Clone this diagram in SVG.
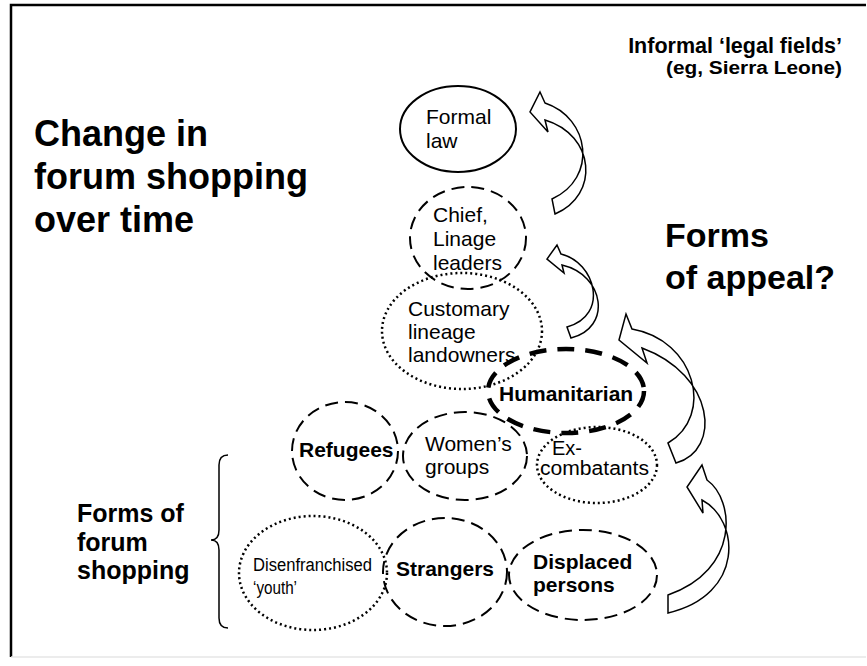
<svg xmlns="http://www.w3.org/2000/svg" width="867" height="666" viewBox="0 0 867 666">
<style>
text{font-family:"Liberation Sans",Arial,sans-serif;fill:#000}
.t{font-size:21px}
.b{font-weight:bold}
.solid{fill:none;stroke:#000;stroke-width:2}
.dash{fill:none;stroke:#000;stroke-width:2;stroke-dasharray:13 7}
.thick{fill:none;stroke:#000;stroke-width:4.5;stroke-dasharray:17 11}
.dot{fill:none;stroke:#000;stroke-width:2.5;stroke-dasharray:2 3}
.arrow{fill:#fff;stroke:#000;stroke-width:1.5;stroke-linejoin:miter}
</style>
<rect width="867" height="666" fill="#fff"/>
<path d="M11,657 V5 H866" fill="none" stroke="#000" stroke-width="2.5"/>
<path d="M11,657 H866" fill="none" stroke="#e6e6e6" stroke-width="1.5"/>

<g id="title">
<text class="b" font-size="36" x="34" y="146">Change in</text>
<text class="b" font-size="36" x="34" y="189">forum shopping</text>
<text class="b" font-size="36" x="34" y="232">over time</text>
</g>
<g id="subtitle">
<text class="b" font-size="21.5" x="842" y="53" text-anchor="end">Informal ‘legal fields’</text>
<text class="b" font-size="18" x="842" y="74" text-anchor="end" textLength="176" lengthAdjust="spacingAndGlyphs">(eg, Sierra Leone)</text>
</g>
<g id="appeal">
<text class="b" font-size="34" x="665" y="247">Forms</text>
<text class="b" font-size="34" x="665" y="289">of appeal?</text>
</g>
<g id="shopping">
<text class="b" font-size="25" x="77" y="522">Forms of</text>
<text class="b" font-size="25" x="77" y="551">forum</text>
<text class="b" font-size="25" x="77" y="579">shopping</text>
<path d="M228,455 Q219,455 219,465 L219,530 Q219,540 211,540 Q219,540 219,550 L219,618 Q219,628 228,628" fill="none" stroke="#000" stroke-width="1.5"/>
</g>

<g id="connectors">
<path class="arrow" d="M540,92 L545,103 C590,118 598,178 552,199 L555,214 C600,195 595,135 545,120 L548,132 L530,112 Z"/>
<path class="arrow" d="M557,245 L561,254 C595,262 610,315 567,327 L571,338 C612,328 605,275 562,265 L564,273 L547,259 Z"/>
<path class="arrow" d="M626,314 L632,329 C695,340 715,415 668,443 L676,463 C722,450 715,375 642,348 L647,363 L619,340 Z"/>
<path class="arrow" d="M702,465 L707,480 C735,500 740,570 668,595 L668,613 C745,595 740,520 702,500 L703,513 L687,487 Z"/>
</g>

<g id="formal-law">
<ellipse class="solid" cx="458" cy="129" rx="58" ry="43"/>
<text class="t" x="426" y="124">Formal</text>
<text class="t" x="426" y="148">law</text>
</g>
<g id="chief">
<ellipse class="dash" cx="468" cy="238" rx="58" ry="51"/>
<text class="t" x="433" y="222">Chief,</text>
<text class="t" x="433" y="246">Linage</text>
<text class="t" x="433" y="270">leaders</text>
</g>
<g id="customary">
<ellipse class="dot" cx="462" cy="331" rx="80" ry="58"/>
<text class="t" x="408" y="316">Customary</text>
<text class="t" x="408" y="339">lineage</text>
<text class="t" x="408" y="362">landowners</text>
</g>
<g id="humanitarian">
<ellipse class="thick" cx="566" cy="391" rx="78" ry="42"/>
<text class="t b" x="499" y="401">Humanitarian</text>
</g>
<g id="refugees">
<ellipse class="dash" cx="345" cy="451" rx="53" ry="49"/>
<text class="t b" x="299" y="457">Refugees</text>
</g>
<g id="womens-groups">
<ellipse class="dash" cx="465" cy="456" rx="62" ry="44"/>
<text class="t" x="425" y="451">Women’s</text>
<text class="t" x="425" y="474">groups</text>
</g>
<g id="ex-combatants">
<ellipse class="dot" cx="597" cy="465" rx="60" ry="38"/>
<text font-size="20" x="552" y="455">Ex-</text>
<text font-size="20" x="540" y="475" textLength="109" lengthAdjust="spacingAndGlyphs">combatants</text>
</g>
<g id="youth">
<ellipse class="dot" cx="313" cy="573" rx="74" ry="57"/>
<text font-size="18" x="253" y="571" textLength="119" lengthAdjust="spacingAndGlyphs">Disenfranchised</text>
<text font-size="18" x="253" y="594" textLength="44" lengthAdjust="spacingAndGlyphs">‘youth’</text>
</g>
<g id="strangers">
<ellipse class="dash" cx="445" cy="572" rx="62" ry="54"/>
<text class="t b" x="396" y="576">Strangers</text>
</g>
<g id="displaced">
<ellipse class="dash" cx="583" cy="575" rx="74" ry="45"/>
<text class="t b" x="533" y="569">Displaced</text>
<text class="t b" x="533" y="592">persons</text>
</g>
</svg>
